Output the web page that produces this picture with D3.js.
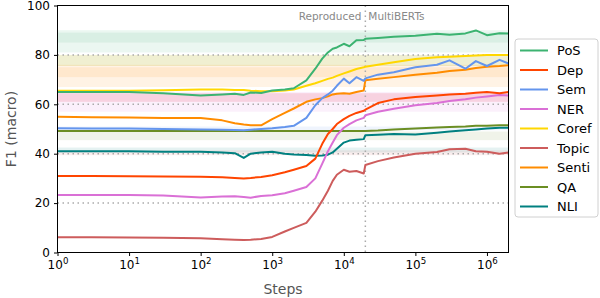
<html>
<head>
<script src="https://d3js.org/d3.v7.min.js"></script>
<style>
  body { margin: 0; background: #fff; }
  svg { font-family: "DejaVu Sans", sans-serif; }
</style>
</head>
<body>
<svg id="chart" width="600" height="298"></svg>
<script>
// training steps shared by every task curve (the jump at 2e4 is the switch to MultiBERTs)
const steps = [1, 3, 10, 30, 100, 200, 300, 400, 500, 700, 1000, 1500, 2000, 3000, 4000, 5000, 6000, 7000,
  8000, 10000, 12000, 15000, 19000, 20000, 30000, 50000, 1e5, 2e5, 3e5, 5e5, 7e5, 1e6, 1.5e6, 2e6];

const posF1 = [65, 65, 65, 64.5, 63.6, 64, 64.3, 63.8, 64.8, 64.6, 65.6, 66, 66.5, 69.7, 74.4, 78.5, 81, 82.5,
  83, 84.5, 83.5, 85.9, 86, 86.5, 86.8, 87.3, 87.8, 88.6, 88.2, 88.7, 89.9, 88, 88.8, 88.7];
const depF1 = [31, 31, 30.9, 30.8, 30.7, 30.5, 30.2, 30, 30.2, 30.6, 31.3, 32.5, 33.5, 35, 38, 44, 48, 50,
  52, 54, 55.3, 56.5, 57.4, 57.8, 60.5, 62, 63, 63.6, 64, 64.3, 64.7, 65, 64.5, 65];
const semF1 = [50.3, 50.2, 50.2, 50, 49.8, 49.7, 49.6, 49.5, 49.7, 50, 50.3, 50.8, 51.3, 54.5, 59.6, 62.5, 64, 65.5,
  67.5, 70.4, 68.5, 71, 69.5, 70.5, 72, 73, 75, 76, 77.8, 74.4, 77.5, 75.5, 78, 76.5];
const nerF1 = [23.3, 23.3, 23.3, 23.1, 22.3, 22.7, 22.8, 22.5, 22.2, 22.9, 23.2, 24, 25, 26.5, 30, 36, 41, 44.5,
  47.5, 50.5, 52, 53.5, 54.5, 55.6, 57, 58.2, 59.6, 60.5, 61.3, 62, 62.7, 63.2, 63.8, 63.6];
const corefF1 = [65.5, 65.5, 65.5, 65.7, 66, 66, 65.8, 65.8, 65.5, 65.3, 65.3, 65.6, 66, 67.5, 68.5, 69.5, 70.3, 70.8,
  71.5, 72.5, 73.3, 74.3, 75, 75.2, 76, 77, 78.3, 79, 79.3, 79.6, 79.8, 80, 80, 80];
const topicF1 = [6.2, 6.2, 6.1, 6, 5.8, 5.4, 5.2, 5.1, 5.2, 5.5, 6.3, 8.5, 10, 12, 16.5, 21, 25, 29,
  31.5, 33.5, 32.7, 33, 32, 35.4, 37, 38.5, 40, 40.7, 41.8, 42, 41, 40.8, 40, 40.5];
const sentiF1 = [55, 54.8, 54.7, 54.5, 54.5, 53.5, 52.3, 51.8, 51.5, 51.5, 54, 56.5, 58.3, 61, 62, 62.5, 63.2, 64,
  64.3, 64.5, 64.3, 65, 65.6, 69.7, 70.3, 71, 72, 72.8, 73.5, 74, 74.7, 75.2, 75.5, 75.8];
const qaF1 = [49.2, 49.2, 49.2, 49.2, 49.2, 49.2, 49.2, 49.2, 49.2, 49.2, 49.2, 49.2, 49.2, 49.2, 49.2, 49.2, 49.2, 49.2,
  49.2, 49.2, 49.2, 49.2, 49.2, 49.2, 49.4, 49.8, 50.2, 50.6, 50.8, 51, 51.3, 51.3, 51.5, 51.5];
const nliF1 = [41, 41, 41, 40.8, 40.8, 40.5, 40.2, 38.3, 40, 40.5, 40.8, 40, 39.7, 39.5, 39.2, 39.3, 39.6, 40.5,
  42, 44.5, 45.3, 45.6, 45.9, 47.5, 47.7, 48, 47.8, 48.5, 49, 49.5, 49.8, 50.2, 50.5, 50.5];

const taskNames = ["PoS", "Dep", "Sem", "NER", "Coref", "Topic", "Senti", "QA", "NLI"];
const taskColors = ["#3cb371", "#ff4500", "#6495ed", "#da70d6", "#ffd700", "#cd5c5c", "#ff8c00", "#6b8e23", "#008080"];
const taskValues = [posF1, depF1, semF1, nerF1, corefF1, topicF1, sentiF1, qaF1, nliF1];

// baseline ranges drawn as horizontal bands: [task, low, high]
const bandTask = ["PoS", "PoS", "Coref", "QA", "Senti", "Senti", "NER", "Dep", "NER", "Sem", "QA", "NLI", "Topic"];
const bandLow  = [81, 85, 75.5, 75.5, 67, 71, 57, 61, 61, 49.5, 45.5, 40.5, 39.4];
const bandHigh = [90, 89, 80, 80, 76, 75, 65, 64.5, 64.5, 51, 49, 42.5, 41.4];

const yTicks = [0, 20, 40, 60, 80, 100];
const xTicks = [1, 10, 100, 1e3, 1e4, 1e5, 1e6];
const switchStep = 2e4;

const svg = d3.select("#chart");
const x = d3.scaleLog().domain([1, 2e6]).range([57.5, 508.5]);
const y = d3.scaleLinear().domain([0, 100]).range([252.5, 5.5]);
const colorOf = d3.scaleOrdinal(taskNames, taskColors);

// bands
svg.append("g").selectAll("rect")
  .data(bandTask.map((t, i) => ({ task: t, lo: bandLow[i], hi: bandHigh[i] })))
  .join("rect")
  .attr("x", x(1)).attr("width", x(2e6) - x(1))
  .attr("y", d => y(d.hi)).attr("height", d => y(d.lo) - y(d.hi))
  .attr("fill", d => colorOf(d.task))
  .attr("opacity", 0.1);

// dotted grid
const grid = svg.append("g").attr("stroke", "#aaa").attr("stroke-width", 1.5).attr("stroke-dasharray", "1.5,3.5");
grid.selectAll("line.h").data(yTicks.filter(v => v > 0 && v < 100)).join("line")
  .attr("x1", x(1)).attr("x2", x(2e6)).attr("y1", d => y(d)).attr("y2", d => y(d));
grid.append("line").attr("x1", x(switchStep)).attr("x2", x(switchStep)).attr("y1", y(100)).attr("y2", y(0));

// lines
const line = d3.line().x((d, i) => x(steps[i])).y(d => y(d));
svg.append("g").selectAll("path")
  .data(taskNames.map((t, i) => ({ task: t, values: taskValues[i] })).reverse())
  .join("path")
  .attr("fill", "none")
  .attr("stroke", d => colorOf(d.task))
  .attr("stroke-width", 2)
  .attr("stroke-linejoin", "round")
  .attr("d", d => line(d.values));

// axes
const xAxis = svg.append("g").attr("transform", `translate(0,${y(0)})`)
  .call(d3.axisBottom(x).tickValues(xTicks).tickSize(3.5).tickPadding(4).tickFormat(""));
xAxis.selectAll(".tick text").each(function (d) {
  const t = d3.select(this);
  t.append("tspan").text("10");
  t.append("tspan").attr("dy", "-0.55em").attr("font-size", "0.72em").text(Math.round(Math.log10(d)));
});
const yAxis = svg.append("g").attr("transform", `translate(${x(1)},0)`)
  .call(d3.axisLeft(y).tickValues(yTicks).tickSize(3.5).tickPadding(4));
[xAxis, yAxis].forEach(a => {
  a.select(".domain").remove();
  a.selectAll("text").attr("font-size", 12).attr("fill", "#000").attr("font-family", "DejaVu Sans");
  a.selectAll("line").attr("stroke", "#000");
});

svg.append("rect").attr("x", x(1)).attr("y", y(100))
  .attr("width", x(2e6) - x(1)).attr("height", y(0) - y(100))
  .attr("fill", "none").attr("stroke", "#000").attr("stroke-width", 1);

// annotations
svg.append("text").attr("x", x(switchStep) - 4).attr("y", 20).attr("text-anchor", "end")
  .attr("font-size", 10.5).attr("fill", "#888").text("Reproduced");
svg.append("text").attr("x", x(switchStep) + 3).attr("y", 20)
  .attr("font-size", 10.5).attr("fill", "#888").text("MultiBERTs");

svg.append("text").attr("x", (x(1) + x(2e6)) / 2).attr("y", 294).attr("text-anchor", "middle")
  .attr("font-size", 14).attr("fill", "#555").text("Steps");
svg.append("text").attr("transform", `translate(16,${(y(0) + y(100)) / 2}) rotate(-90)`)
  .attr("text-anchor", "middle").attr("font-size", 14).attr("fill", "#555").text("F1 (macro)");

// legend
const legend = svg.append("g").attr("transform", "translate(515,39)");
legend.append("rect").attr("width", 83).attr("height", 178).attr("rx", 3)
  .attr("fill", "#fff").attr("fill-opacity", 0.8).attr("stroke", "#d0d0d0");
const item = legend.selectAll("g.item").data(taskNames).join("g")
  .attr("transform", (d, i) => `translate(0,${11.5 + i * 19.5})`);
item.append("line").attr("x1", 5).attr("x2", 33).attr("stroke", d => colorOf(d)).attr("stroke-width", 2);
item.append("text").attr("x", 42).attr("dy", "0.35em").attr("font-size", 13).text(d => d);
</script>
</body>
</html>
